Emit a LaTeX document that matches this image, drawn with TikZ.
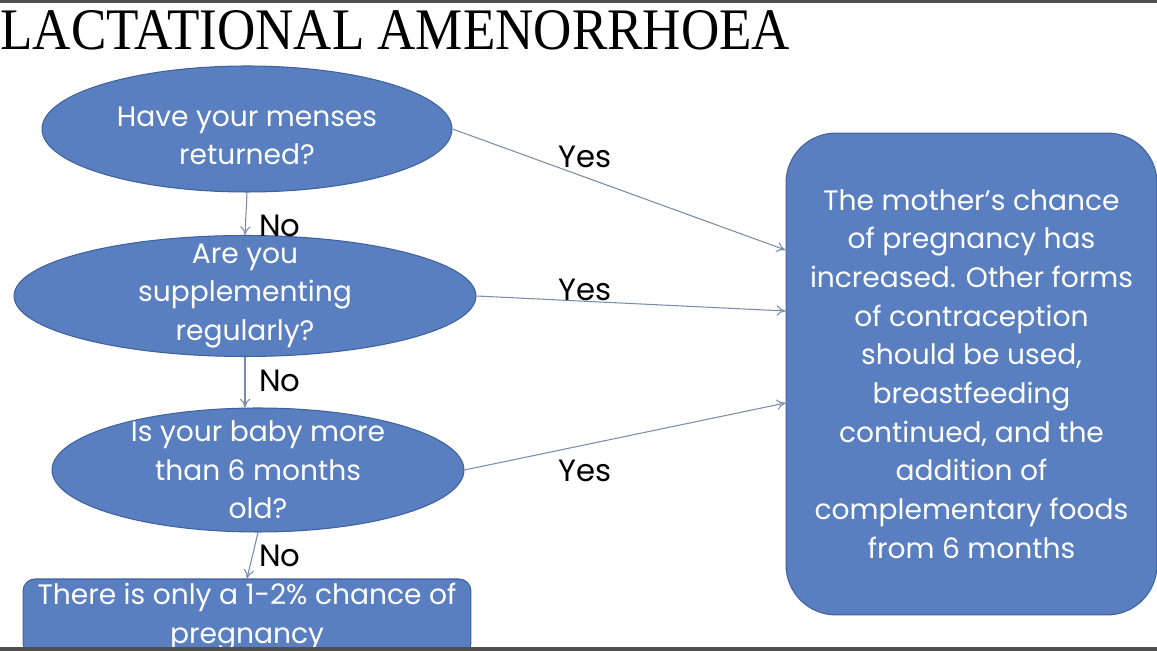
\documentclass[tikz,border=0pt]{standalone}
\usepackage{fontspec}
\setmainfont{Poppins}
\newfontfamily\titlefont{Liberation Serif}
\usetikzlibrary{shapes.geometric,arrows.meta}
\definecolor{boxblue}{HTML}{5A7FC0}
\definecolor{boxedge}{HTML}{3F629C}
\definecolor{linkblue}{HTML}{7A8CAC}
\definecolor{rulegray}{HTML}{505050}

\begin{document}
\begin{tikzpicture}[x=0.02cm, y=-0.02cm,
    question/.style={ellipse, fill=boxblue, draw=boxedge, line width=0.6pt, inner sep=0pt},
    qtext/.style={text=white, align=center, inner sep=0pt,
                  font=\fontsize{16}{22}\selectfont},
    answer/.style={rectangle, fill=boxblue, draw=boxedge, line width=0.6pt,
                   text=white, align=center, inner sep=0pt,
                   font=\fontsize{16}{22}\selectfont},
    link/.style={draw=linkblue, line width=0.6pt, -{To[length=5pt,width=6pt]}},
    choice/.style={font=\fontsize{17.5}{22}\selectfont, text=black, inner sep=0pt}]
  \useasboundingbox (0,0) rectangle (1157,651);
  \fill[white] (0,0) rectangle (1157,651);

  \node[anchor=south west, inner sep=0pt] (title) at (0,50)
    {\resizebox{15.8cm}{0.78cm}{\titlefont LACTATIONAL AMENORRHOEA}};

  \node[question, minimum width=8.2cm, minimum height=2.52cm,
        label={[qtext, yshift=-0.14cm]center:{Have your menses\\returned?}}] (q1) at (247,129) {};
  \node[question, minimum width=9.24cm, minimum height=2.42cm,
        label={[qtext]center:{Are you\\supplementing\\regularly?}}] (q2) at (245,296) {};
  \node[question, minimum width=8.24cm, minimum height=2.48cm,
        label={[qtext]center:{Is your baby more\\than 6 months\\old?}}] (q3) at (258,470) {};

  \node[answer, rounded corners=1cm, minimum width=7.42cm, minimum height=9.64cm] (risk) at (971.5,374)
    {The mother's chance\\of pregnancy has\\increased. Other forms\\of contraception\\should be used,\\breastfeeding\\continued, and the\\addition of\\complementary foods\\from 6 months};
  \node[answer, rounded corners=0.24cm, minimum width=8.96cm, minimum height=1.52cm] (safe) at (247,617)
    {There is only a 1-2\% chance of\\pregnancy};

  \draw[link] (q1.south) -- (q2.north);
  \draw[link] (q2.south) -- (q2.south |- q3.north);
  \draw[link] (q3.south) -- (safe.north);
  \draw[link] (q1.east) -- ([yshift=2.48cm]risk.west);
  \draw[link] (q2.east) -- ([yshift=1.26cm]risk.west);
  \draw[link] (q3.east) -- ([yshift=-0.58cm]risk.west);

  \node[choice, anchor=west] (no1) at (259,226) {No};
  \node[choice, anchor=west] (no2) at (259,381) {No};
  \node[choice, anchor=west] (no3) at (259,556) {No};
  \node[choice] (yes1) at (585,157) {Yes};
  \node[choice] (yes2) at (585,290) {Yes};
  \node[choice] (yes3) at (585,471) {Yes};

  \fill[rulegray] (0,0) rectangle (1157,3);
  \fill[rulegray] (0,647) rectangle (1157,651);
\end{tikzpicture}
\end{document}
